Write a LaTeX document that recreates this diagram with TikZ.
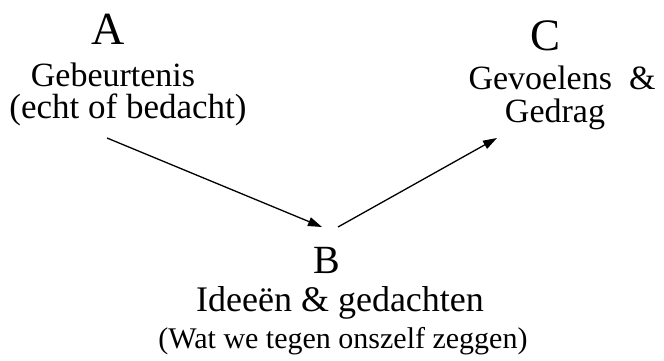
\documentclass[tikz,border=0pt]{standalone}
\usepackage{fontspec}
\setmainfont{Liberation Serif}
\usetikzlibrary{arrows.meta}
\tikzset{
  lbl/.style={anchor=base, inner sep=0pt, outer sep=0pt},
  conn/.style={line width=1.3pt, -{Triangle[length=14pt,width=9pt]}},
}
\begin{document}
\begin{tikzpicture}[x=1pt,y=-1pt]
\useasboundingbox[fill=white] (0,0) rectangle (664,361);
% A
\node[lbl, font=\fontsize{46}{46}\selectfont] (Aletter) at (108,45) {A};
\node[lbl, font=\fontsize{34}{34}\selectfont] (Aline1) at (113,86) {Gebeurtenis};
\node[lbl, font=\fontsize{35}{35}\selectfont] (Aline2) at (128,118) {(echt of bedacht)};
% C
\node[lbl, font=\fontsize{45}{45}\selectfont] (Cletter) at (546,51) {C};
\node[lbl, font=\fontsize{34}{34}\selectfont] (Cline1) at (562,89) {Gevoelens\ \ \&};
\node[lbl, font=\fontsize{34}{34}\selectfont] (Cline2) at (555,122) {Gedrag};
% B
\node[lbl, font=\fontsize{40}{40}\selectfont] (Bletter) at (327,273) {B};
\node[lbl, font=\fontsize{36}{36}\selectfont] (Bline1) at (340,311) {Ideeën \& gedachten};
\node[lbl, font=\fontsize{30}{30}\selectfont] (Bline2) at (343,348) {(Wat we tegen onszelf zeggen)};
% connector ends
\coordinate (aout) at (107,138);
\coordinate (bin) at (322,227);
\coordinate (bout) at (338,227);
\coordinate (cin) at (497,138);
\draw[conn] (aout) -- (bin);
\draw[conn] (bout) -- (cin);
\end{tikzpicture}
\end{document}
